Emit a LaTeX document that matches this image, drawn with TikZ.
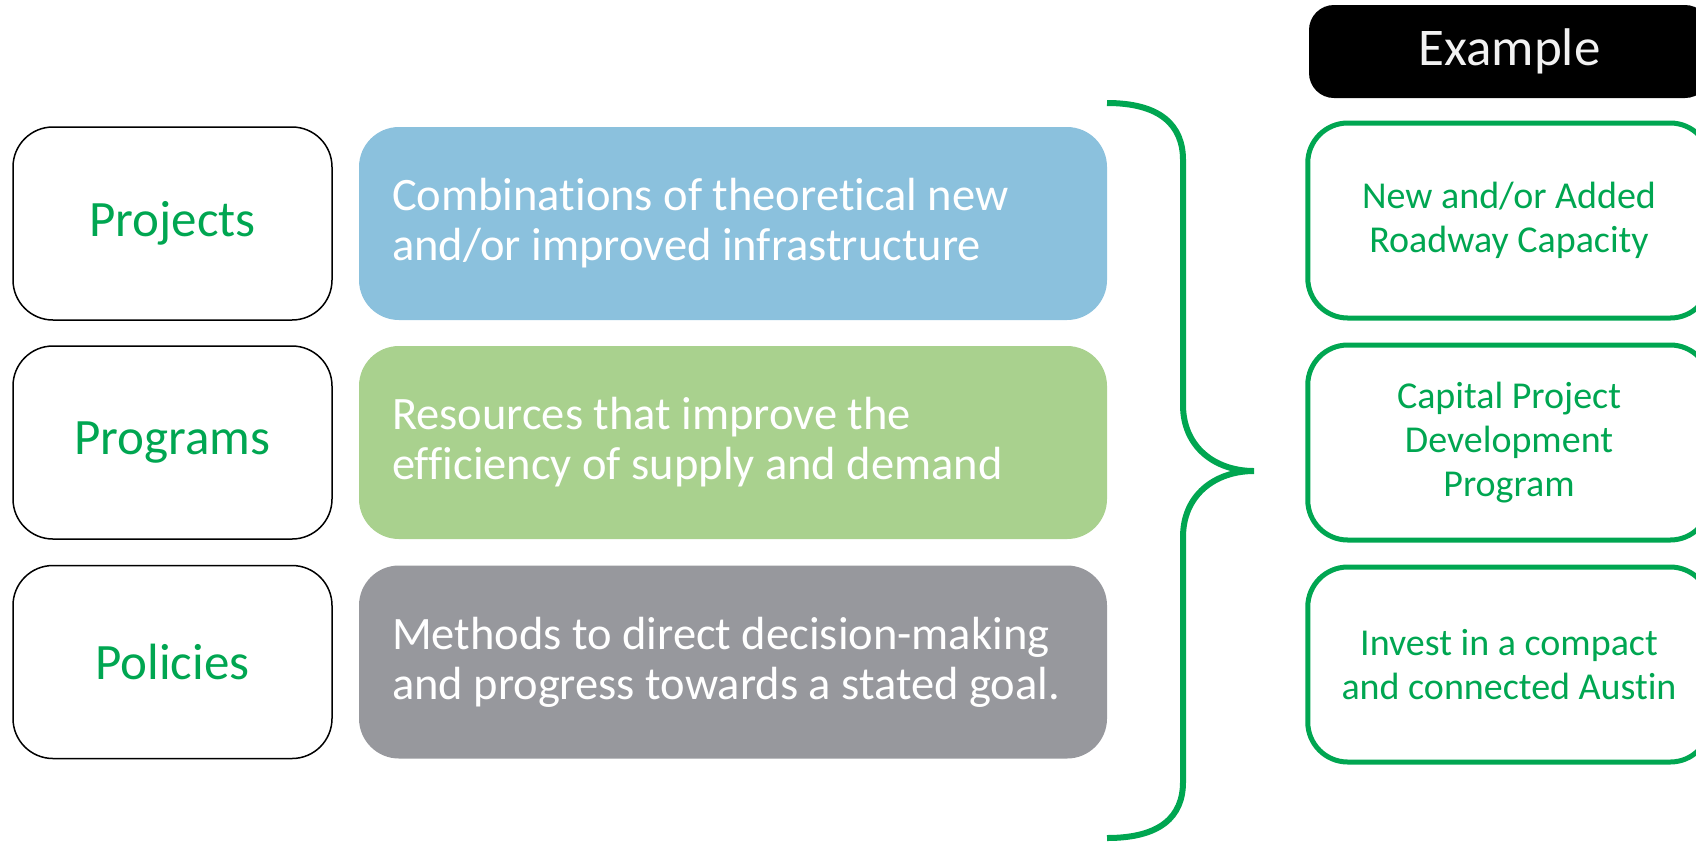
\documentclass[tikz,border=0pt]{standalone}
\usepackage{fontspec}
\setmainfont{Carlito}[Ligatures=NoCommon]
\usetikzlibrary{positioning}
\definecolor{brgreen}{HTML}{00A651}
\definecolor{projblue}{HTML}{8BC1DD}
\definecolor{proggreen}{HTML}{A9D18E}
\definecolor{polgray}{HTML}{97989D}
\definecolor{exwhite}{HTML}{F2F2F2}
\begin{document}
\begin{tikzpicture}[x=0.5pt,y=-0.5pt]%
        \useasboundingbox (0,0) rectangle (1696,842);%%
        \begin{scope}[shape=rectangle,minimum width=159.5pt,minimum height=96.5pt]
        \tikzstyle{every node}=[draw=black,line width=.75pt,rounded corners=20pt,text=brgreen,font=\fontsize{25.5}{30}\selectfont] %%
        \node (proj) at (172.5,223.5)  {Projects}; %%
        \node (prog) at (172.5,442.5)  {Programs}; %%
        \node (poli) at (172.5,662)  {Policies}; %%
        \end{scope}%
        \begin{scope}[shape=rectangle,inner xsep=16.5pt,text width=341pt,minimum width=374pt,minimum height=96.5pt]
        \tikzstyle{every node}=[rounded corners=20pt,text=white,align=flush left,font=\fontsize{23.25}{25}\selectfont] %%
        \node[fill=projblue] (dproj) at (733,223.5)  {Combinations of theoretical new\\and/or improved infrastructure}; %%
        \node[fill=proggreen] (dprog) at (733,442.5)  {Resources that improve the\\efficiency of supply and demand}; %%
        \node[fill=polgray] (dpoli) at (733,662)  {Methods to direct decision-making\\and progress towards a stated goal.}; %%
        \end{scope}%
        \begin{scope}[shape=rectangle,minimum width=201.25pt,minimum height=97.5pt]
        \tikzstyle{every node}=[draw=brgreen,line width=2.5pt,rounded corners=20pt,text=brgreen,align=center,font=\fontsize{19}{22}\selectfont] %%
        \node (eproj) at (1509,220.5)  {New and/or Added\\Roadway Capacity}; %%
        \node (eprog) at (1509,442.5)  {Capital Project\\Development\\Program}; %%
        \node (epoli) at (1509,664.5)  {Invest in a compact\\and connected Austin}; %%
        \end{scope}%
        \node[fill=black,rounded corners=12.5pt,minimum width=200.5pt,minimum height=46.5pt,text=exwhite,font=\fontsize{26.5}{30}\selectfont] (ex) at (1509.5,51.5) {Example}; %%
        % brace
        \coordinate (btop) at (1107,103); %%
        \coordinate (btip) at (1254,471); %%
        \coordinate (bbot) at (1107,838); %%
        \draw[brgreen,line width=3pt] (btop) .. controls (1160,103) and (1183,125) .. (1183,160) -- (1183,405)
          .. controls (1183,447) and (1215,471) .. (btip)
          .. controls (1215,471) and (1183,495) .. (1183,537) -- (1183,782)
          .. controls (1183,817) and (1160,838) .. (bbot); %%
\end{tikzpicture}
\end{document}
